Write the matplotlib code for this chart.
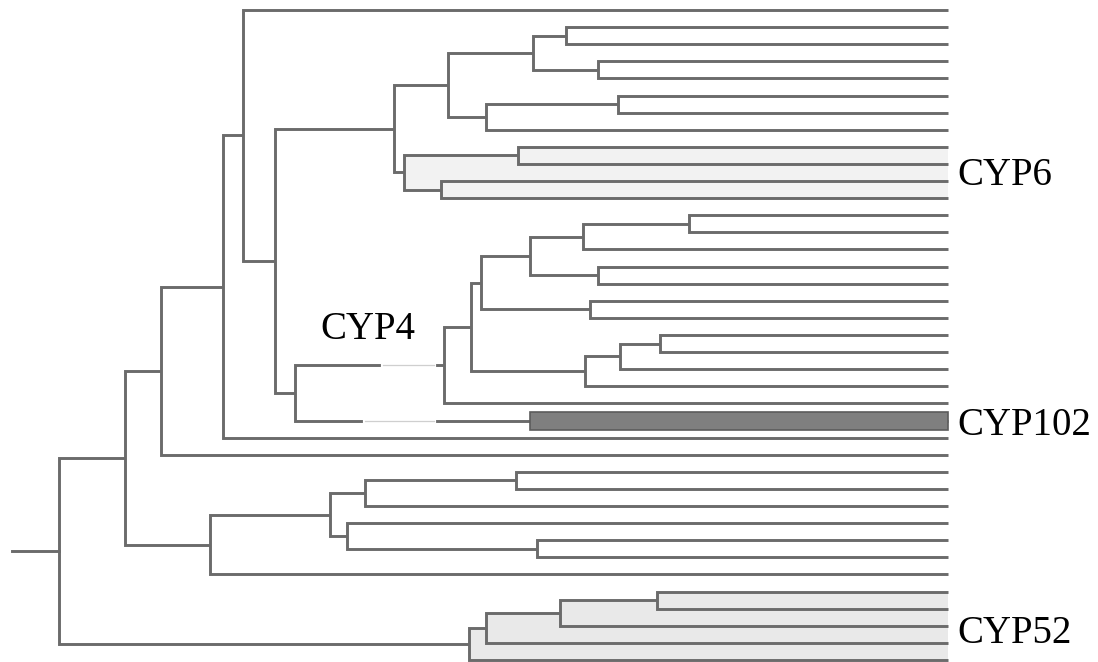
import matplotlib
matplotlib.use("Agg")
import matplotlib.pyplot as plt

# tree data: leaves are 0..38 (top to bottom), tips all at depth 1.0
n_leaves = 39

node_names = ["root", "a", "b", "c", "d", "e", "f", "g", "g1", "g11", "g12",
              "g2", "g21", "cyp6", "c61", "c62", "cyp4", "k", "k1", "k2",
              "k21", "k211", "k2111", "k212", "k22", "k3", "k31", "k311",
              "h", "i", "i1", "i11", "i2", "i21", "cyp52", "p", "q", "r"]

node_depth = [0.0, 0.074, 0.115, 0.184, 0.207, 0.243, 0.377, 0.438, 0.533,
              0.570, 0.606, 0.480, 0.629, 0.388, 0.516, 0.430, 0.265, 0.433,
              0.463, 0.475, 0.530, 0.589, 0.709, 0.606, 0.597, 0.592, 0.631,
              0.676, 0.170, 0.305, 0.344, 0.514, 0.324, 0.538, 0.461, 0.480,
              0.564, 0.673]

node_children = [["a", "cyp52"], ["b", "h"], ["c", 26], ["d", 25], [0, "e"],
                 ["f", "cyp4"], ["g", "cyp6"], ["g1", "g2"], ["g11", "g12"],
                 [1, 2], [3, 4], ["g21", 7], [5, 6], ["c61", "c62"], [8, 9],
                 [10, 11], ["k", 24], ["k1", 23], ["k2", "k3"], ["k21", "k22"],
                 ["k211", "k212"], ["k2111", 14], [12, 13], [15, 16], [17, 18],
                 ["k31", 22], ["k311", 21], [19, 20], ["i", 33], ["i1", "i2"],
                 ["i11", 29], [27, 28], [30, "i21"], [31, 32], ["p", 38],
                 ["q", 37], ["r", 36], [34, 35]]

# highlighted clades
shaded_clades = {"cyp6": "#f2f2f2", "cyp52": "#e9e9e9"}
cyp102_leaf = 24
cyp102_start = 0.530

depth = dict(zip(node_names, node_depth))
children = dict(zip(node_names, node_children))


def get_y(n):
    if isinstance(n, int):
        return float(n)
    ys = [get_y(c) for c in children[n]]
    return (ys[0] + ys[-1]) / 2


def get_x(n):
    if isinstance(n, int):
        return 1.0
    return depth[n]


def sub_nodes(n):
    if isinstance(n, int):
        return []
    out = [n]
    for c in children[n]:
        out += sub_nodes(c)
    return out


fig = plt.figure(figsize=(10.98, 6.62), dpi=100)
ax = fig.add_axes([0, 0, 1, 1])

line_col = "#6b6b6b"

# shaded clade backgrounds
for clade, col in shaded_clades.items():
    for n in sub_nodes(clade):
        y1 = get_y(children[n][0])
        y2 = get_y(children[n][-1])
        ax.fill_between([depth[n], 1.0], y1, y2, color=col, lw=0, zorder=1)

# branches
for n in node_names:
    c1, c2 = children[n]
    y1, y2 = get_y(c1), get_y(c2)
    d = depth[n]
    ax.plot([get_x(c1), d, d, get_x(c2)], [y1, y1, y2, y2],
            color=line_col, lw=2.1, solid_joinstyle="miter",
            solid_capstyle="butt", zorder=2)

# root stub
ry = get_y("root")
ax.plot([-0.053, 0.0], [ry, ry], color=line_col, lw=2.1, zorder=2)

# faded pieces of the CYP4 branches
ky = get_y("k")
for (x0, x1, yy) in [(0.364, 0.422, ky), (0.344, 0.422, float(cyp102_leaf))]:
    ax.plot([x0, x1], [yy, yy], color="white", lw=3, zorder=3)
    ax.plot([x0, x1], [yy, yy], color="#cfcfcf", lw=0.9, zorder=4)

# CYP102 bar
ax.barh(cyp102_leaf, 1.0 - cyp102_start, left=cyp102_start, height=1.05,
        color="#7f7f7f", edgecolor="#5c5c5c", lw=1.2, zorder=5)

# labels
font = dict(family=["Liberation Serif", "DejaVu Serif"], fontsize=28,
            color="black", va="baseline", ha="left")
ax.text(1.010, 10.23, "CYP6", **font)
ax.text(0.2936, 19.24, "CYP4", **font)
ax.text(1.010, 24.85, "CYP102", **font)
ax.text(1.010, 37.0, "CYP52", **font)

ax.set_xlim(-59 / 889, (1098 - 59) / 889)
ax.set_ylim((662 - 10) / 17.105, -10 / 17.105)
ax.axis("off")

fig.savefig("out.png", dpi=100)
